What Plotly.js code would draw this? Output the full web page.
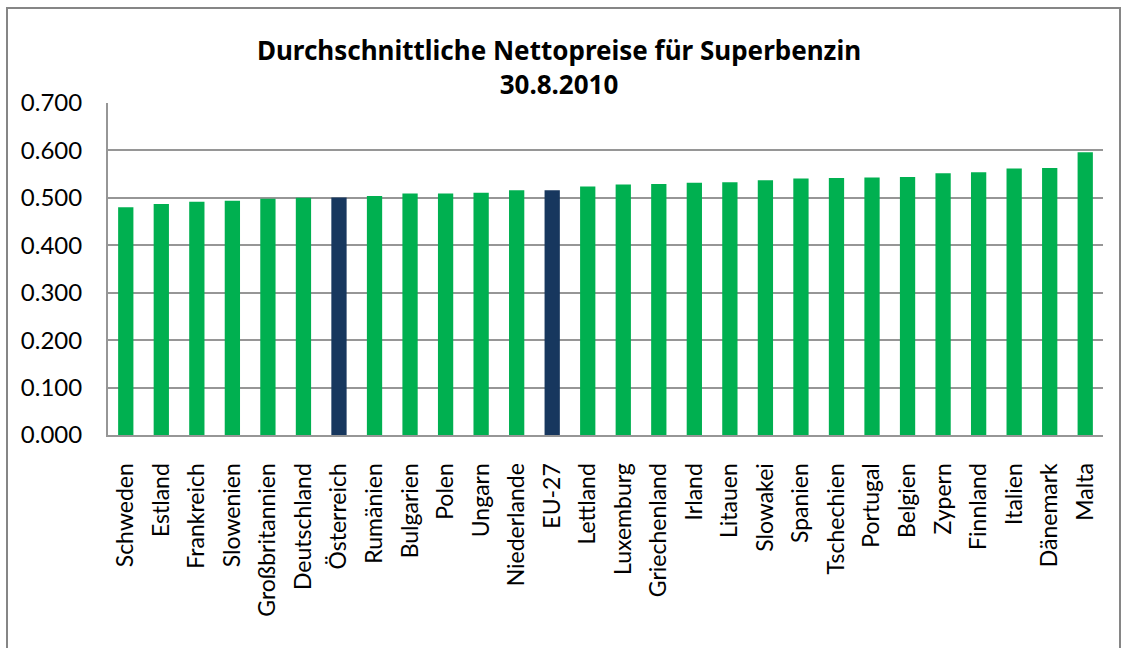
<!DOCTYPE html>
<html>
<head>
<meta charset="utf-8">
<script src="https://cdn.plot.ly/plotly-3.0.1.min.js"></script>
<style>
html,body{margin:0;padding:0;background:#fff;}
#chart{width:1123px;height:648px;}
</style>
</head>
<body>
<div id="chart"></div>
<script>
const countries = ["Schweden","Estland","Frankreich","Slowenien","Großbritannien","Deutschland","Österreich","Rumänien","Bulgarien","Polen","Ungarn","Niederlande","EU-27","Lettland","Luxemburg","Griechenland","Irland","Litauen","Slowakei","Spanien","Tschechien","Portugal","Belgien","Zypern","Finnland","Italien","Dänemark","Malta"];
const prices = [0.480,0.487,0.492,0.494,0.498,0.500,0.501,0.504,0.509,0.509,0.511,0.516,0.516,0.524,0.528,0.529,0.532,0.533,0.537,0.541,0.542,0.543,0.544,0.552,0.554,0.562,0.563,0.596];
const highlighted = ["Österreich","EU-27"];
const titleLines = ["Durchschnittliche Nettopreise für Superbenzin","30.8.2010"];
const yTicks = [0,0.1,0.2,0.3,0.4,0.5,0.6,0.7];

const GREEN = "#00B050", NAVY = "#17375E";
const colors = countries.map(c => highlighted.includes(c) ? NAVY : GREEN);
const FONT = "Lato, Carlito, Calibri, sans-serif";
const TITLE_FONT = "'Noto Sans', 'Open Sans', sans-serif";

const trace = {
  type: "bar",
  x: countries,
  y: prices,
  marker: {color: colors, line: {width: 0}},
  hoverinfo: "x+y"
};

const L = 108, R = 20, T = 103, B = 213, W = 1123, H = 648;
const pw = W - L - R, ph = H - T - B;

const layout = {
  width: W, height: H,
  margin: {l: L, r: R, t: T, b: B, pad: 0},
  paper_bgcolor: "#fff",
  plot_bgcolor: "#fff",
  bargap: 0.57,
  showlegend: false,
  font: {family: FONT, color: "#000"},
  title: {
    text: "<b>" + titleLines.join("<br>") + "</b>",
    font: {family: TITLE_FONT, size: 26, color: "#000"},
    x: 559 / W, xanchor: "center", xref: "container",
    y: 1 - 60 / H, yanchor: "middle", yref: "container"
  },
  xaxis: {
    type: "category",
    tickangle: -90,
    tickfont: {family: FONT, size: 23, color: "#000"},
    showgrid: false,
    showline: true, linecolor: "#969696", linewidth: 2,
    ticks: "", ticklabelstandoff: 17,
    fixedrange: true
  },
  yaxis: {
    range: [0, 0.7],
    tickvals: yTicks,
    tickformat: ".3f",
    tickfont: {family: FONT, size: 24, color: "#000"},
    showgrid: true, gridcolor: "#969696", gridwidth: 2,
    showline: true, linecolor: "#969696", linewidth: 2,
    ticks: "", ticklabelstandoff: 19,
    zeroline: false,
    fixedrange: true
  },
  shapes: [{
    type: "rect", xref: "paper", yref: "paper",
    x0: (7 - L) / pw, x1: (1120 - L) / pw,
    y0: -(H + 10 - T - ph) / ph,
    y1: (H - B - 8) / ph,
    line: {color: "#868686", width: 2},
    fillcolor: "rgba(0,0,0,0)",
    layer: "below"
  }]
};

Plotly.newPlot("chart", [trace], layout, {displayModeBar: false, staticPlot: true});
</script>
</body>
</html>
